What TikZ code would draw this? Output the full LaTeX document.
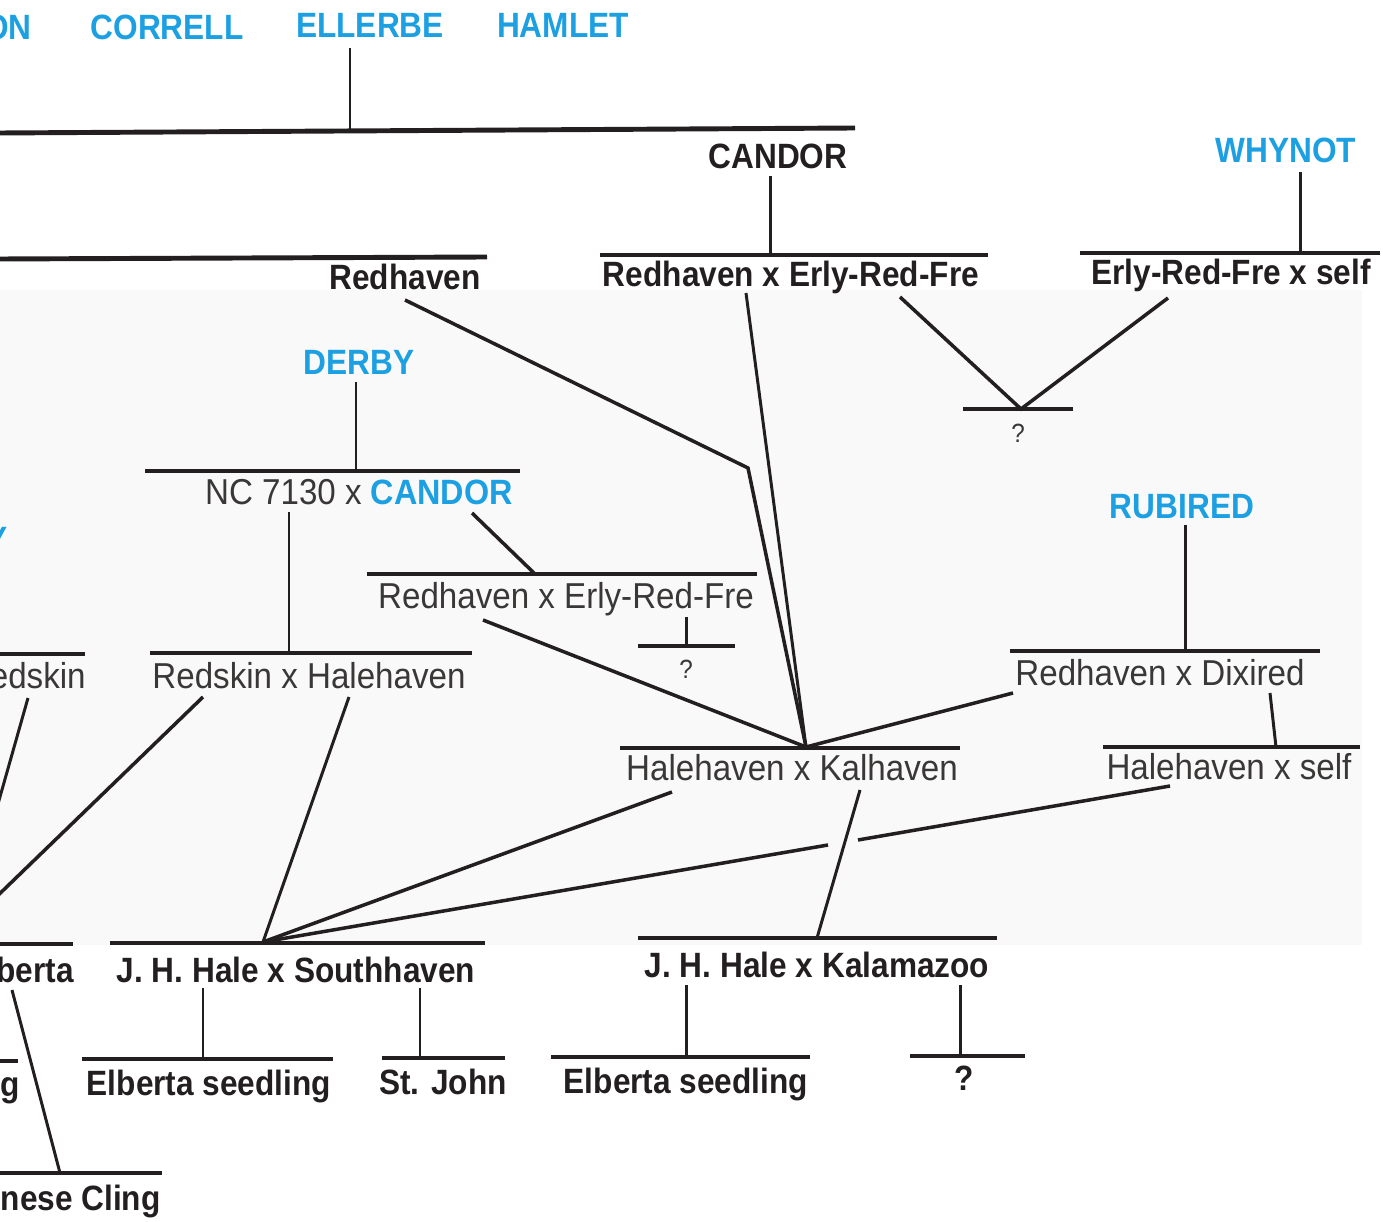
\documentclass[tikz,border=0pt]{standalone}
\usepackage{fontspec}
\setmainfont{Liberation Sans}[FakeStretch=0.9]
\newfontfamily\regfont{Liberation Sans}[FakeStretch=0.92]
\definecolor{ink}{RGB}{35,31,32}
\definecolor{greyink}{RGB}{58,55,55}
\definecolor{cultblue}{RGB}{28,160,226}
\definecolor{paper}{RGB}{249,249,249}
\tikzset{
  bar/.style={ink,line width=2.8pt},
  stem/.style={ink,line width=1.7pt},
  link/.style={ink,line width=2pt},
  lbl/.style={inner sep=0pt,anchor=base,text=ink,font=\fontsize{20}{24}\selectfont\bfseries},
  glbl/.style={lbl,text=greyink,font=\fontsize{20.5}{24}\regfont},
  cult/.style={lbl,text=cultblue},
  qmark/.style={lbl,text=greyink,font=\fontsize{15}{18}\regfont},
}
\begin{document}
\begin{tikzpicture}[x=0.02cm,y=-0.02cm]
    \useasboundingbox (0,0) rectangle (1383,1222);
    \fill[paper] (0,290) rectangle (1362,945);

    \node[cult,anchor=base east] (on) at (32,40) {ON};
    \node[cult] (correll) at (167,40) {CORRELL};
    \node[cult] (ellerbe) at (370,38) {ELLERBE};
    \node[cult] (hamlet) at (563,38) {HAMLET};
    \node[lbl] (redhaven) at (405,290) {Redhaven};
    \node[lbl] (candor) at (778,169) {CANDOR};
    \node[cult] (whynot) at (1286,163) {WHYNOT};
    \node[lbl] (rhxerf) at (791,287) {Redhaven x Erly-Red-Fre};
    \node[lbl] (erfself) at (1231,285) {Erly-Red-Fre x self};
    \node[qmark] (qa) at (1018,443) {?};
    \node[cult] (derby) at (359,375) {DERBY};
    \node[glbl] (nccandor) at (359,505) {NC 7130 x \textcolor{cultblue}{\fontsize{20}{24}\selectfont\bfseries CANDOR}};
    \node[cult,anchor=base east] (yy) at (8,552) {Y};
    \node[glbl] (rhxerfb) at (566,609) {Redhaven x Erly-Red-Fre};
    \node[qmark] (qb) at (686,679) {?};
    \node[glbl,anchor=base east] (redskin) at (86,689) {Redskin};
    \node[glbl] (rsxhh) at (309,689) {Redskin x Halehaven};
    \node[cult] (rubired) at (1182,519) {RUBIRED};
    \node[glbl] (rhxdix) at (1160,686) {Redhaven x Dixired};
    \node[glbl] (hhxkal) at (792,781) {Halehaven x Kalhaven};
    \node[glbl] (hhself) at (1229,780) {Halehaven x self};
    \node[lbl,anchor=base east] (elberta) at (74,982) {Elberta};
    \node[lbl] (jhsouth) at (296,982) {J. H. Hale x Southhaven};
    \node[lbl] (jhkal) at (817,977) {J. H. Hale x Kalamazoo};
    \node[lbl,anchor=base east] (seedg) at (20,1096) {seedling};
    \node[lbl] (elbsa) at (209,1095) {Elberta seedling};
    \node[lbl] (stjohn) at (443,1094) {St. John};
    \node[lbl] (elbsb) at (686,1093) {Elberta seedling};
    \node[lbl] (qc) at (964,1090) {?};
    \node[lbl,anchor=base east] (cling) at (161,1210) {Chinese Cling};

    \coordinate (ellerbe-t) at (350,48);
    \coordinate (ellerbe-b) at (350,131);
    \coordinate (candor-t) at (770,176);
    \coordinate (candor-b) at (770,255);
    \coordinate (whynot-t) at (1300,172);
    \coordinate (whynot-b) at (1300,253);
    \coordinate (erf-s) at (900,297);
    \coordinate (self-s) at (1168,298);
    \coordinate (qa-top) at (1021,409);
    \coordinate (derby-t) at (356,382);
    \coordinate (derby-b) at (356,471);
    \coordinate (candor-s) at (472,513);
    \coordinate (rhxerfb-b) at (535,574);
    \coordinate (nc-s) at (289,512);
    \coordinate (rsxhh-b) at (289,653);
    \coordinate (rhxerfb-t) at (686,617);
    \coordinate (qb-top) at (686,646);
    \coordinate (redhaven-s) at (405,300);
    \coordinate (bend) at (748,468);
    \coordinate (kalfan) at (806,747);
    \coordinate (rhxerf-s) at (746,293);
    \coordinate (rhxerfb-s) at (483,620);
    \coordinate (rhxdix-w) at (1013,693);
    \coordinate (rubired-t) at (1185,525);
    \coordinate (rubired-b) at (1185,651);
    \coordinate (dixired-s) at (1270,693);
    \coordinate (hhself-b) at (1276,747);
    \coordinate (redskin-s) at (28,698);
    \coordinate (off-a) at (-6,818);
    \coordinate (rsk-s) at (203,697);
    \coordinate (off-b) at (-12,905);
    \coordinate (hh-s) at (349,697);
    \coordinate (southfan) at (263,942);
    \coordinate (hhk-s) at (672,792);
    \coordinate (kal-s) at (860,790);
    \coordinate (jhkal-b) at (817,938);
    \coordinate (self-t) at (1170,786);
    \coordinate (hop-a) at (858,840);
    \coordinate (hop-b) at (828,845);
    \coordinate (elberta-s) at (12,990);
    \coordinate (cling-b) at (60,1173);
    \coordinate (sa-t) at (203,988);
    \coordinate (sa-b) at (203,1059);
    \coordinate (sb-t) at (420,988);
    \coordinate (sb-b) at (420,1058);
    \coordinate (ka-t) at (686,985);
    \coordinate (ka-b) at (686,1057);
    \coordinate (kb-t) at (960,985);
    \coordinate (kb-b) at (960,1056);

    \draw[bar] (0,133) -- (855,128);
    \draw[bar] (0,259) -- (487,257);
    \draw[bar] (600,255) -- (988,255);
    \draw[bar] (1080,253) -- (1380,253);
    \draw[bar] (963,409) -- (1073,409);
    \draw[bar] (145,471) -- (520,471);
    \draw[bar] (367,574) -- (757,574);
    \draw[bar] (638,646) -- (735,646);
    \draw[bar] (0,654) -- (85,654);
    \draw[bar] (150,653) -- (472,653);
    \draw[bar] (1010,651) -- (1320,651);
    \draw[bar] (620,748) -- (960,748);
    \draw[bar] (1103,747) -- (1360,747);
    \draw[bar] (0,944) -- (73,944);
    \draw[bar] (110,943) -- (485,943);
    \draw[bar] (638,938) -- (997,938);
    \draw[bar] (0,1061) -- (18,1061);
    \draw[bar] (82,1059) -- (333,1059);
    \draw[bar] (382,1058) -- (505,1058);
    \draw[bar] (551,1057) -- (810,1057);
    \draw[bar] (910,1056) -- (1025,1056);
    \draw[bar] (0,1173) -- (162,1173);

    \draw[stem] (ellerbe-t) -- (ellerbe-b);
    \draw[stem] (candor-t) -- (candor-b);
    \draw[stem] (whynot-t) -- (whynot-b);
    \draw[stem] (derby-t) -- (derby-b);
    \draw[stem] (nc-s) -- (rsxhh-b);
    \draw[stem] (rhxerfb-t) -- (qb-top);
    \draw[stem] (rubired-t) -- (rubired-b);
    \draw[stem] (dixired-s) -- (hhself-b);
    \draw[stem] (sa-t) -- (sa-b);
    \draw[stem] (sb-t) -- (sb-b);
    \draw[stem] (ka-t) -- (ka-b);
    \draw[stem] (kb-t) -- (kb-b);

    \draw[link] (erf-s) -- (qa-top) -- (self-s);
    \draw[link] (candor-s) -- (rhxerfb-b);
    \draw[link] (redhaven-s) -- (bend) -- (kalfan);
    \draw[link,line width=1.7pt] (rhxerf-s) -- (kalfan);
    \draw[link] (rhxerfb-s) -- (kalfan) -- (rhxdix-w);
    \draw[stem] (redskin-s) -- (off-a);
    \draw[link] (rsk-s) -- (off-b);
    \draw[stem] (hh-s) -- (southfan);
    \draw[link] (hhk-s) -- (southfan);
    \draw[stem] (kal-s) -- (jhkal-b);
    \draw[link] (self-t) -- (hop-a);
    \draw[link] (hop-b) -- (southfan);
    \draw[stem] (elberta-s) -- (cling-b);
\end{tikzpicture}
\end{document}
